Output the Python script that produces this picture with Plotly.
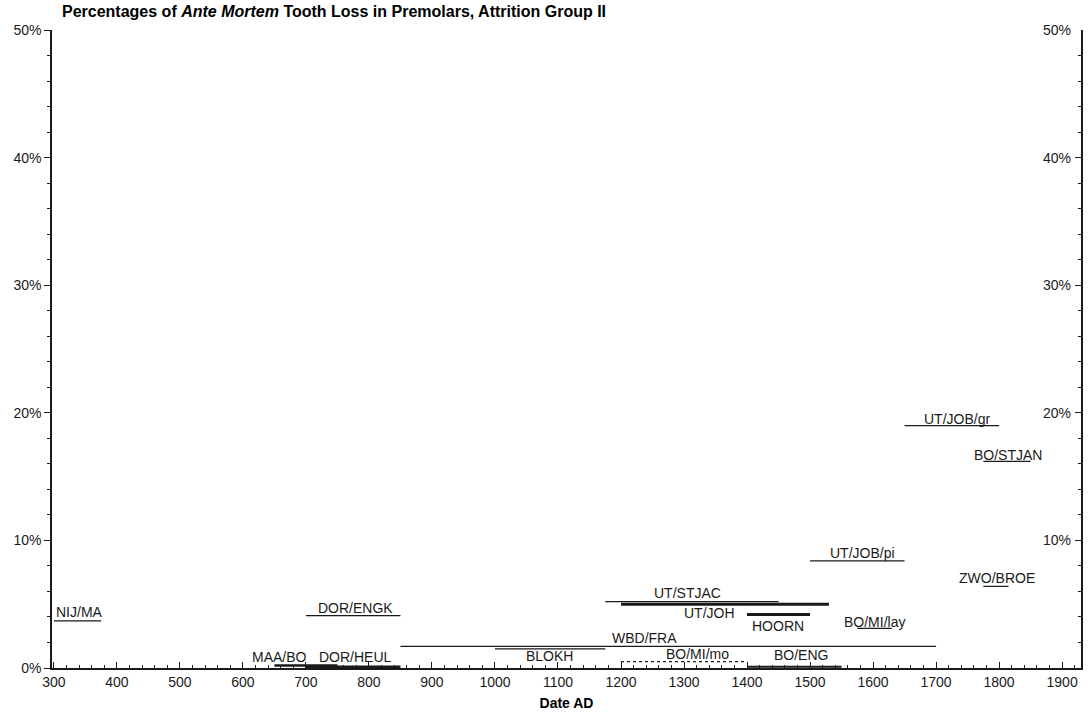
import plotly.graph_objects as go

# Sites: date range (AD) and percentage of ante mortem tooth loss in premolars
sites = ["NIJ/MA", "DOR/ENGK", "MAA/BO", "DOR/HEUL", "WBD/FRA", "BLOKH",
         "UT/STJAC", "UT/JOH", "HOORN", "BO/MI/mo", "BO/ENG", "BO/MI/lay",
         "UT/JOB/pi", "UT/JOB/gr", "BO/STJAN", "ZWO/BROE"]
start_year = [300, 700, 650, 700, 850, 1000, 1175, 1200, 1400, 1200, 1400, 1575,
              1500, 1650, 1775, 1775]
end_year = [375, 850, 750, 850, 1700, 1175, 1450, 1530, 1500, 1400, 1550, 1630,
            1650, 1800, 1850, 1815]
pct_loss = [3.7, 4.1, 0.2, 0.1, 1.7, 1.5, 5.2, 5.0, 4.2, 0.5, 0.1, 3.1,
            8.4, 19.0, 16.2, 6.4]

x_ticks = list(range(300, 2000, 100))
y_ticks = [0, 10, 20, 30, 40, 50]
y_tick_text = [f"{v}%" for v in y_ticks]

# Line styling per site
line_width = {"UT/JOH": 3, "HOORN": 3, "MAA/BO": 2.5, "DOR/HEUL": 2.5, "BO/ENG": 2}
line_dash = {"BO/MI/mo": "dot"}

# Label placement (year, percent) and anchoring
label_pos = {
    "NIJ/MA": (300, 4.4, "left"),
    "DOR/ENGK": (779, 4.7, "center"),
    "MAA/BO": (658, 0.86, "center"),
    "DOR/HEUL": (778, 0.86, "center"),
    "WBD/FRA": (1237, 2.35, "center"),
    "BLOKH": (1086, 0.94, "center"),
    "UT/STJAC": (1306, 5.9, "center"),
    "UT/JOH": (1341, 4.3, "center"),
    "HOORN": (1449, 3.3, "center"),
    "BO/MI/mo": (1322, 1.1, "center"),
    "BO/ENG": (1485, 1.0, "center"),
    "BO/MI/lay": (1602, 3.6, "center"),
    "UT/JOB/pi": (1583, 9.0, "center"),
    "UT/JOB/gr": (1734, 19.5, "center"),
    "BO/STJAN": (1814, 16.7, "center"),
    "ZWO/BROE": (1797, 7.05, "center"),
}

font_family = "Liberation Sans, Arial, sans-serif"
ink = "#1a1a1a"

fig = go.Figure()

for name, x0, x1, v in zip(sites, start_year, end_year, pct_loss):
    fig.add_trace(go.Scatter(
        x=[x0, x1], y=[v, v], mode="lines", name=name,
        line=dict(color=ink, width=line_width.get(name, 1.2),
                  dash=line_dash.get(name, "solid")),
        showlegend=False, hoverinfo="name",
    ))

# Invisible trace to activate the mirrored right-hand axis
fig.add_trace(go.Scatter(x=[start_year[0]], y=[pct_loss[0]], yaxis="y2",
                         mode="markers", marker=dict(opacity=0),
                         showlegend=False, hoverinfo="skip"))

for name in sites:
    lx, ly, anchor = label_pos[name]
    fig.add_annotation(x=lx, y=ly, text=name, showarrow=False,
                       xanchor=anchor, yanchor="middle",
                       font=dict(family=font_family, size=14, color=ink))

# Right-hand axis labels sit inside the plot, left of the axis line
for v, t in zip(y_ticks[1:], y_tick_text[1:]):
    fig.add_annotation(x=1, xref="paper", y=v, yref="y", text=t,
                       showarrow=False, xanchor="right", yanchor="middle",
                       xshift=-8,
                       font=dict(family=font_family, size=14, color=ink))

axis_common = dict(showgrid=False, zeroline=False, showline=True,
                   linecolor=ink, linewidth=1.5,
                   tickfont=dict(family=font_family, size=14, color=ink))

fig.update_layout(
    width=1090, height=714,
    margin=dict(l=52, r=9, t=30, b=46),
    paper_bgcolor="white", plot_bgcolor="white",
    title=dict(
        text="<b>Percentages of <i>Ante Mortem</i> Tooth Loss in Premolars, Attrition Group II</b>",
        x=62 / 1090, xanchor="left", y=1 - 11 / 714, yanchor="middle",
        font=dict(family=font_family, size=16, color="black"),
    ),
    xaxis=dict(
        range=[297, 1930], tickvals=x_ticks, ticktext=[str(t) for t in x_ticks],
        ticks="inside", ticklen=6, tickcolor=ink, automargin=False,
        minor=dict(dtick=20, ticks="inside", ticklen=3, tickcolor=ink),
        title=dict(text="<b>Date AD</b>", standoff=10,
                   font=dict(family=font_family, size=14, color="black")),
        **axis_common,
    ),
    yaxis=dict(
        range=[0, 50], tickvals=y_ticks, ticktext=y_tick_text,
        ticks="outside", ticklen=6, tickcolor=ink, automargin=False,
        minor=dict(dtick=2, ticks="outside", ticklen=3, tickcolor=ink),
        **axis_common,
    ),
    yaxis2=dict(
        range=[0, 50], tickvals=y_ticks, showticklabels=False,
        overlaying="y", side="right", anchor="x", automargin=False,
        ticks="inside", ticklen=6, tickcolor=ink,
        minor=dict(dtick=2, ticks="inside", ticklen=3, tickcolor=ink),
        showgrid=False, zeroline=False, showline=True,
        linecolor=ink, linewidth=1.5,
    ),
)

fig.write_html("out.html")
